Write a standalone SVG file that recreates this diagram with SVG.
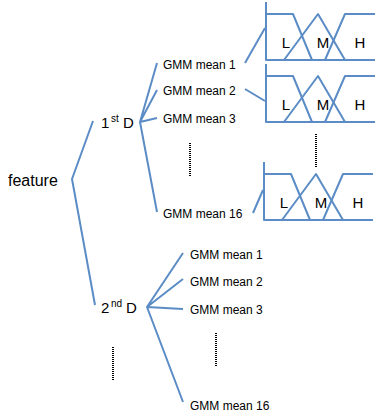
<svg xmlns="http://www.w3.org/2000/svg" xmlns:xlink="http://www.w3.org/1999/xlink" width="375" height="414" viewBox="0 0 375 414">
  <style>
    .ln { fill: none; stroke: #5b8cc5; stroke-width: 2; stroke-linejoin: round; stroke-linecap: butt; }
    .dots { fill: none; stroke: #000; stroke-width: 2; stroke-dasharray: 1 1; }
    .big { font-family: "Liberation Sans", Arial, sans-serif; font-size: 16px; fill: #000; }
    .lvl { font-family: "Liberation Sans", Arial, sans-serif; font-size: 15px; fill: #000; }
    .sup { font-size: 10px; }
    .gmm { font-family: "Liberation Sans", Arial, sans-serif; font-size: 12px; fill: #000; }
    .mf { font-family: "Liberation Sans", Arial, sans-serif; font-size: 15px; fill: #000; text-anchor: middle; }
  </style>
  <defs>
    <!-- low / medium / high membership functions, origin at top-left of the plateau -->
    <g id="mf">
      <path class="ln" d="M0,-12 V46 H109"/>
      <path class="ln" d="M0,0 H27 L46,46"/>
      <path class="ln" d="M18,46 L52,0 L79,46"/>
      <path class="ln" d="M59,46 L79,0 H109"/>
      <text class="mf" x="20" y="34">L</text>
      <text class="mf" x="57" y="34">M</text>
      <text class="mf" x="94" y="34">H</text>
    </g>
  </defs>

  <!-- tree nodes -->
  <g id="feature"><text class="big" x="8" y="186">feature</text></g>

  <g id="d1">
    <text class="lvl" x="101" y="128">1<tspan class="sup" x="111" dy="-6">st</tspan><tspan x="123" dy="6">D</tspan></text>
  </g>
  <g id="d2">
    <text class="lvl" x="101" y="313">2<tspan class="sup" x="111" dy="-6">nd</tspan><tspan x="126" dy="6">D</tspan></text>
  </g>

  <g id="d1-gmm1"><text class="gmm" x="163" y="69">GMM mean 1</text></g>
  <g id="d1-gmm2"><text class="gmm" x="163" y="95">GMM mean 2</text></g>
  <g id="d1-gmm3"><text class="gmm" x="163" y="123">GMM mean 3</text></g>
  <g id="d1-gmm16"><text class="gmm" x="163" y="218">GMM mean 16</text></g>

  <g id="d2-gmm1"><text class="gmm" x="190" y="259">GMM mean 1</text></g>
  <g id="d2-gmm2"><text class="gmm" x="190" y="286">GMM mean 2</text></g>
  <g id="d2-gmm3"><text class="gmm" x="190" y="314">GMM mean 3</text></g>
  <g id="d2-gmm16"><text class="gmm" x="190" y="410">GMM mean 16</text></g>

  <g id="mf1"><use xlink:href="#mf" transform="translate(266,14)"/></g>
  <g id="mf2"><use xlink:href="#mf" transform="translate(266,76)"/></g>
  <g id="mf16"><use xlink:href="#mf" transform="translate(264,174)"/></g>

  <!-- ellipsis markers -->
  <g id="ellipses">
    <line class="dots" x1="190" y1="143" x2="190" y2="176"/>
    <line class="dots" x1="316" y1="134" x2="316" y2="168"/>
    <line class="dots" x1="216" y1="333" x2="216" y2="366"/>
    <line class="dots" x1="113" y1="347" x2="113" y2="380"/>
  </g>

  <!-- connectors -->
  <g id="connectors">
    <polyline class="ln" points="93,121 72,179 95,305"/>
    <path class="ln" d="M157,63 L140,122 L157,90 M140,122 L157,118 M140,122 L157,212"/>
    <path class="ln" d="M183,253 L147,307 L183,279 M147,307 L183,309 M147,307 L183,402"/>
    <line class="ln" x1="245" y1="63" x2="265" y2="28"/>
    <line class="ln" x1="245" y1="89" x2="265" y2="101"/>
    <line class="ln" x1="253" y1="213" x2="263" y2="190"/>
  </g>
</svg>
